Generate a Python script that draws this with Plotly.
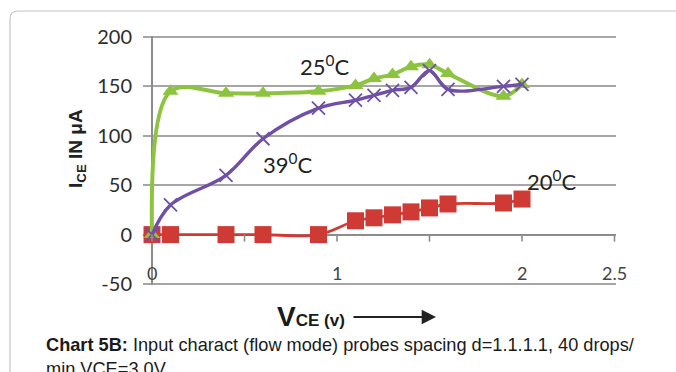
import plotly.graph_objects as go

# ---- data -------------------------------------------------------------
vce = [0, 0.1, 0.4, 0.6, 0.9, 1.1, 1.2, 1.3, 1.4, 1.5, 1.6, 1.9, 2.0]
ice_20c = [0, 0, 0, 0, 0, 14, 17, 20, 23, 27, 31, 32, 36]
ice_25c = [0, 145, 143, 143, 145, 151, 158, 162, 170, 172, 163, 140, 152]
ice_39c = [0, 30, 60, 97, 128, 136, 141, 146, 149, 166, 147, 150, 152]

y_ticks = [-50, 0, 50, 100, 150, 200]
y_tick_text = ["-50", "0", "50", "100", "150", "200"]
x_ticks = [0, 1, 2, 2.5]
x_tick_text = ["0", "1", "2", "2.5"]
x_marks = [0, 0.5, 1, 1.5, 2, 2.5]

# ---- canvas geometry -----------------------------------------------------
W, H = 676, 372
L, R, T, B = 143, 60, 36, 87
PW, PH = W - L - R, H - T - B
X_ORIGIN_PX, X_UNIT_PX = 152, 185


def px_x(px):
    return (px - L) / PW


def px_y(py):
    return (H - B - py) / PH


x_range = [(L - X_ORIGIN_PX) / X_UNIT_PX, (W - R - X_ORIGIN_PX) / X_UNIT_PX]
y_range = [-51, 201]
X_LABEL_LEVEL = -39  # V tick labels sit just above the lowest gridline

GREEN = "#8cc43f"
PURPLE = "#6f50a6"
RED = "#cf3a34"
GRID = "#a6a6a6"

fig = go.Figure()

fig.add_trace(go.Scatter(
    x=vce, y=ice_20c, mode="lines+markers", name="20°C",
    line=dict(color=RED, width=2.8, shape="spline"),
    marker=dict(symbol="square", size=17, color=RED),
))
fig.add_trace(go.Scatter(
    x=vce, y=ice_25c, mode="lines+markers", name="25°C",
    line=dict(color=GREEN, width=4, shape="spline"),
    marker=dict(symbol="triangle-up", size=14, color=GREEN),
))
fig.add_trace(go.Scatter(
    x=vce, y=ice_39c, mode="lines+markers", name="39°C",
    line=dict(color=PURPLE, width=3.4, shape="spline"),
    marker=dict(symbol="x-thin-open", size=13,
                line=dict(color=PURPLE, width=1.8)),
))

shapes = []
# outer gridlines (top and bottom of the value range)
for v in (y_ticks[0], y_ticks[-1]):
    shapes.append(dict(type="line", xref="paper", yref="y", x0=0, x1=1, y0=v, y1=v,
                       line=dict(color=GRID, width=2), layer="below"))

# small downward tick marks on the V axis (drawn at I = 0)
for t in x_marks:
    shapes.append(dict(
        type="line", xref="x", yref="y", x0=t, x1=t,
        ysizemode="pixel", yanchor=0, y0=0, y1=-7,
        line=dict(color="#8c8c8c", width=1.6), layer="above",
    ))

# page frame with a rounded top-left corner
fx0, fy_top, fy_bot, fx1, rad = 10, 11, 380, 690, 8
frame_path = (
    f"M {px_x(fx0)},{px_y(fy_bot)} "
    f"L {px_x(fx0)},{px_y(fy_top + rad)} "
    f"Q {px_x(fx0)},{px_y(fy_top)} {px_x(fx0 + rad)},{px_y(fy_top)} "
    f"L {px_x(fx1)},{px_y(fy_top)}"
)
shapes.append(dict(type="path", xref="paper", yref="paper", path=frame_path,
                   line=dict(color="#c4c4c4", width=1.2)))

label_font = dict(family="Lato, Liberation Sans, sans-serif", size=22, color="#222222")
xtick_font = dict(family="Lato, Liberation Sans, sans-serif", size=18, color="#444444")

annotations = [
    # series labels
    dict(x=0.93, y=171, xref="x", yref="y", text="25<sup>0</sup>C",
         showarrow=False, font=label_font),
    dict(x=0.73, y=72, xref="x", yref="y", text="39<sup>0</sup>C",
         showarrow=False, font=label_font),
    dict(x=2.16, y=55, xref="x", yref="y", text="20<sup>0</sup>C",
         showarrow=False, font=label_font),
    # y-axis title
    dict(x=px_x(77), y=px_y(149), xref="paper", yref="paper",
         xanchor="center", yanchor="middle",
         text="<b>I<sub>CE</sub> IN μA</b>", textangle=-90, showarrow=False,
         font=dict(family="Liberation Sans, Arial, sans-serif", size=19, color="#222222")),
    # x-axis title
    dict(x=px_x(275), y=px_y(316), xref="paper", yref="paper",
         xanchor="left", yanchor="middle",
         text="<b>V</b><b><span style='font-size:17px'>CE (v)</span></b>",
         showarrow=False,
         font=dict(family="Liberation Sans, Arial, sans-serif", size=28, color="#1a1a1a")),
    # arrow after the x-axis title
    dict(x=px_x(436), y=px_y(317), xref="paper", yref="paper", text="",
         showarrow=True, ax=-84, ay=0, arrowhead=2, arrowsize=1.3,
         arrowwidth=2.2, arrowcolor="#222222"),
    # caption
    dict(x=px_x(44), y=px_y(333), xref="paper", yref="paper",
         xanchor="left", yanchor="top", align="left",
         text="<b>Chart 5B:</b> Input charact (flow mode) probes spacing d=1.1.1.1, 40 drops/"
              "<br>min.VCE=3.0V.",
         showarrow=False,
         font=dict(family="Liberation Sans, Arial, sans-serif", size=18.2, color="#1a1a1a")),
]

# V tick labels, placed inside the plot just above the -50 gridline
for v, txt in zip(x_ticks, x_tick_text):
    annotations.append(dict(x=v, y=X_LABEL_LEVEL, xref="x", yref="y",
                            xanchor="center", yanchor="middle", text=txt,
                            showarrow=False, font=xtick_font))

fig.update_layout(
    width=W, height=H,
    margin=dict(l=L, r=R, t=T, b=B, pad=0),
    paper_bgcolor="white", plot_bgcolor="white",
    showlegend=False,
    shapes=shapes,
    annotations=annotations,
    xaxis=dict(
        range=x_range, showticklabels=False, ticks="",
        showgrid=False, showline=False,
        zeroline=True, zerolinecolor="#8c8c8c", zerolinewidth=1.6,
        fixedrange=True,
    ),
    yaxis=dict(
        range=y_range, tickvals=y_ticks, ticktext=y_tick_text, ticks="",
        showgrid=True, gridcolor=GRID, gridwidth=2,
        zeroline=True, zerolinecolor="#8c8c8c", zerolinewidth=2,
        showline=False, ticklabelstandoff=10,
        tickfont=dict(family="Lato, Liberation Sans, sans-serif", size=20, color="#2e2e2e"),
        fixedrange=True,
    ),
)

fig.write_html("out.html")
